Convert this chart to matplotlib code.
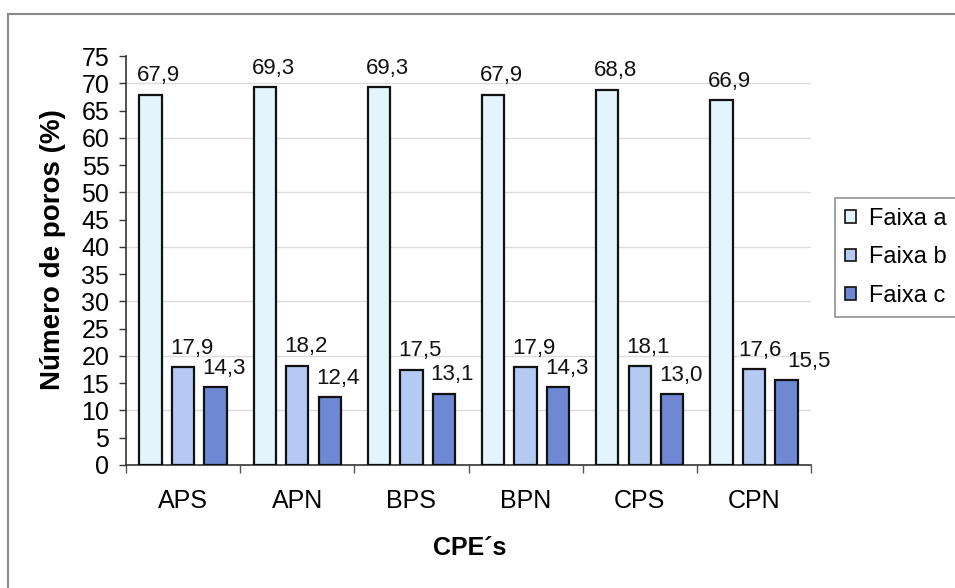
import matplotlib
matplotlib.use("Agg")
import matplotlib.pyplot as plt
from matplotlib.patches import Rectangle, Patch
import numpy as np

plt.rcParams['font.family'] = ['Liberation Sans', 'DejaVu Sans']

categories = ["APS", "APN", "BPS", "BPN", "CPS", "CPN"]
faixa_a = [67.9, 69.3, 69.3, 67.9, 68.8, 66.9]
faixa_b = [17.9, 18.2, 17.5, 17.9, 18.1, 17.6]
faixa_c = [14.3, 12.4, 13.1, 14.3, 13.0, 15.5]
series_names = ["Faixa a", "Faixa b", "Faixa c"]
yticks = list(range(0, 80, 5))

colors = ["#e3f4fc", "#b4caf2", "#6f88d4"]

# extra horizontal shift (points) for value labels that would otherwise collide
label_shift = [
    [0, 0, 0, 0, 0, 0],
    [0, 0, 0, 0, 0, -2],
    [0, 0, 0, 0, 0, 10],
]

W, H = 955, 588
fig = plt.figure(figsize=(W / 100, H / 100), dpi=100)
ax = fig.add_axes([126 / W, 1 - 465 / H, (811 - 126) / W, (465 - 56) / H])

x = np.arange(len(categories))
width = 0.195
offsets = [-0.285, 0.0, 0.285]

for vals, off, col, shifts in zip([faixa_a, faixa_b, faixa_c], offsets, colors,
                                  label_shift):
    bars = ax.bar(x + off, vals, width, color=col, edgecolor="#111111",
                  linewidth=1.6, zorder=3)
    for b, v, dx in zip(bars, vals, shifts):
        ax.annotate(f"{v:.1f}".replace(".", ","),
                    (b.get_x() + b.get_width() / 2, v),
                    xytext=(6 + dx, 6), textcoords="offset points",
                    ha="center", va="bottom", fontsize=16, color="#111111")

ax.set_xlim(-0.5, len(categories) - 0.5)
ax.set_ylim(0, 75)
ax.set_yticks(yticks)
ax.set_yticklabels([str(t) for t in yticks], fontsize=18)
ax.tick_params(axis="y", length=5, width=1, pad=7, color="#333333")

# category boundaries carry the tick marks, names sit at the centres
ax.set_xticks(np.arange(-0.5, len(categories), 1.0))
ax.set_xticklabels([""] * (len(categories) + 1))
ax.tick_params(axis="x", which="major", length=6, width=1, color="#555555")
ax.set_xticks(x, minor=True)
ax.set_xticklabels(categories, minor=True, fontsize=18)
ax.tick_params(axis="x", which="minor", length=0, pad=17)

for yv in range(10, 80, 10):
    ax.axhline(yv, color="#dcdcdc", linewidth=1, zorder=1)

for s in ["top", "right"]:
    ax.spines[s].set_visible(False)
ax.spines["left"].set_color("#333333")
ax.spines["bottom"].set_color("#333333")
ax.spines["left"].set_linewidth(1.2)
ax.spines["bottom"].set_linewidth(1.2)

fig.text(53 / W, 1 - 250 / H, "Número de poros (%)", rotation=90,
         ha="center", va="center", fontsize=20, fontweight="bold")
fig.text(470 / W, 1 - 548 / H, "CPE´s", ha="center", va="center",
         fontsize=18, fontweight="bold")

handles = [Patch(facecolor=c, edgecolor="#111111", linewidth=1.2) for c in colors]
leg = fig.legend(handles, series_names, loc="upper left",
                 bbox_to_anchor=(835 / W, 1 - 198 / H), fontsize=17,
                 frameon=True, fancybox=False, handlelength=0.45,
                 handleheight=0.45, handletextpad=0.55, labelspacing=0.7,
                 borderpad=0.42, borderaxespad=0)
leg.get_frame().set_edgecolor("#777777")
leg.get_frame().set_linewidth(1.2)

fig.patches.append(Rectangle((8 / W, -0.05), 1.1, 1 - 14 / H + 0.05,
                             transform=fig.transFigure, fill=False,
                             edgecolor="#8a8a8a", linewidth=1.5))

fig.savefig("out.png", dpi=100)
